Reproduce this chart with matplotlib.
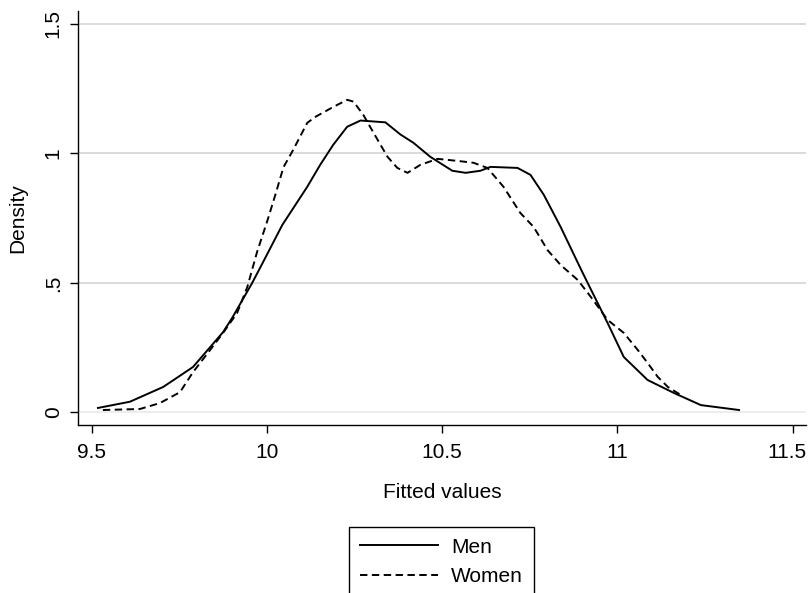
import matplotlib
matplotlib.use("Agg")
import matplotlib.pyplot as plt
import matplotlib.transforms as mtransforms

# Data
men_x = [9.518, 9.609, 9.704, 9.789, 9.875, 9.901, 9.958, 9.987, 10.044, 10.115,
         10.152, 10.189, 10.229, 10.267, 10.338, 10.381, 10.418, 10.466, 10.529,
         10.567, 10.609, 10.638, 10.715, 10.752, 10.790, 10.838, 10.895, 10.915,
         10.972, 11.018, 11.086, 11.161, 11.238, 11.347]
men_y = [0.017, 0.041, 0.098, 0.175, 0.310, 0.365, 0.500, 0.575, 0.724, 0.871,
         0.956, 1.033, 1.103, 1.127, 1.120, 1.073, 1.041, 0.987, 0.933,
         0.925, 0.933, 0.948, 0.944, 0.917, 0.840, 0.716, 0.555, 0.500,
         0.345, 0.214, 0.125, 0.075, 0.028, 0.009]

women_x = [9.532, 9.638, 9.695, 9.752, 9.789, 9.838, 9.875, 9.915, 9.944,
           9.972, 10.001, 10.024, 10.047, 10.075, 10.115, 10.138, 10.190, 10.229,
           10.247, 10.275, 10.304, 10.344, 10.372, 10.401, 10.438, 10.487, 10.544,
           10.589, 10.629, 10.675, 10.723, 10.761, 10.801, 10.838, 10.887, 10.924,
           10.972, 11.018, 11.058, 11.086, 11.115, 11.144, 11.181]
women_y = [0.009, 0.013, 0.036, 0.078, 0.155, 0.241, 0.307, 0.384, 0.484,
           0.620, 0.739, 0.840, 0.946, 1.014, 1.118, 1.141, 1.180, 1.207,
           1.200, 1.149, 1.080, 0.987, 0.944, 0.925, 0.956, 0.979, 0.971,
           0.964, 0.944, 0.871, 0.770, 0.716, 0.626, 0.569, 0.511, 0.446,
           0.357, 0.307, 0.241, 0.191, 0.137, 0.098, 0.067]

x_ticks = [9.5, 10, 10.5, 11, 11.5]
x_tick_labels = ["9.5", "10", "10.5", "11", "11.5"]
y_ticks = [0, 0.5, 1, 1.5]
y_tick_labels = ["0", ".5", "1", "1.5"]

plt.rcParams['font.family'] = ['Liberation Sans', 'DejaVu Sans']

W, H = 810, 593
fig = plt.figure(figsize=(W / 100, H / 100), dpi=100)
fig.patch.set_facecolor('white')

left, right, top, bottom = 78, 806, 11, 425.3
ax = fig.add_axes([left / W, 1 - bottom / H, (right - left) / W, (bottom - top) / H])

ax.set_xlim(9.461, 11.538)
ax.set_ylim(-0.05, 1.55)

for v in y_ticks:
    ax.axhline(v, color='#ececec' if v == 0 else '#d8d8d8', lw=1.3, zorder=0)

l1, = ax.plot(men_x, men_y, color='black', lw=1.4, ls='-', label='Men')
l2, = ax.plot(women_x, women_y, color='black', lw=1.4, ls=(0, (3.8, 2.3)), label='Women')

ax.set_xticks(x_ticks)
ax.set_xticklabels(x_tick_labels)
ax.set_yticks(y_ticks)
ax.set_yticklabels(y_tick_labels, rotation=90, va='center')

ax.tick_params(axis='both', direction='out', length=6, width=1, colors='black',
               labelsize=15)
ax.tick_params(axis='x', pad=7)
ax.tick_params(axis='y', pad=5)

# keep the last x tick label inside the figure, as in the reference
last = ax.get_xticklabels()[-1]
last.set_transform(last.get_transform() +
                   mtransforms.ScaledTranslation(-6 / 100, 0, fig.dpi_scale_trans))

for s in ['top', 'right']:
    ax.spines[s].set_visible(False)
for s in ['left', 'bottom']:
    ax.spines[s].set_linewidth(1.0)
    ax.spines[s].set_color('black')

ax.set_xlabel('Fitted values', fontsize=15)
ax.xaxis.set_label_coords((442 - left) / (right - left), (bottom - 493) / (bottom - top))
ax.xaxis.label.set_va('center')
ax.set_ylabel('Density', fontsize=15)
ax.yaxis.set_label_coords((18 - left) / (right - left), 0.5)
ax.yaxis.label.set_va('center')

leg = fig.legend(handles=[l1, l2], loc='upper center',
                 bbox_to_anchor=(441.5 / W, 1 - 527.3 / H),
                 bbox_transform=fig.transFigure,
                 fontsize=15, frameon=True, fancybox=False, shadow=False,
                 handlelength=3.75, handletextpad=0.65, borderpad=0.5,
                 labelspacing=0.5, borderaxespad=0)
leg.get_frame().set_edgecolor('black')
leg.get_frame().set_linewidth(1.0)
leg.get_frame().set_facecolor('white')
leg.get_frame().set_alpha(1)

fig.savefig('out.png', dpi=100)
